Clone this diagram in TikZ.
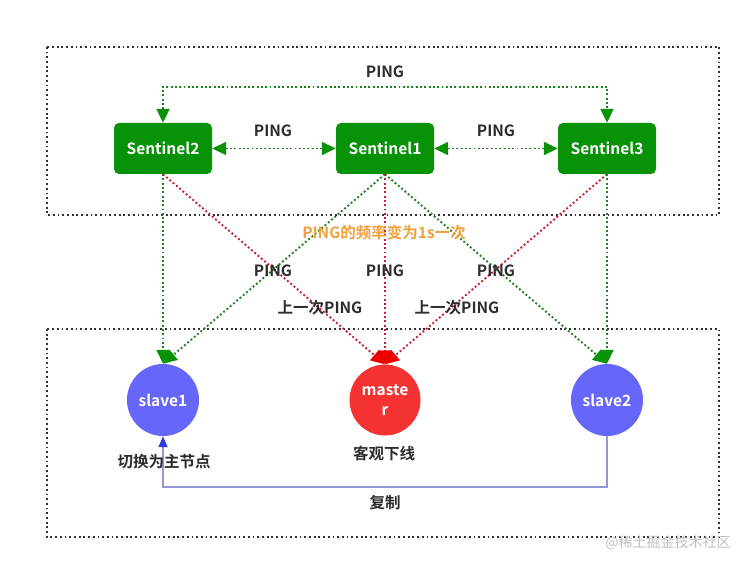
\documentclass[tikz,border=0pt]{standalone}
\usepackage{fontspec}
\setmainfont{Noto Sans CJK SC}[BoldFont={Noto Sans CJK SC Bold}]
\usetikzlibrary{arrows.meta}
\definecolor{boxgreen}{RGB}{8,146,8}
\definecolor{linegreen}{RGB}{30,130,30}
\definecolor{linered}{RGB}{200,30,50}
\definecolor{slaveblue}{RGB}{102,102,250}
\definecolor{masterred}{RGB}{245,50,50}
\definecolor{txt}{RGB}{45,45,45}
\definecolor{orangetxt}{RGB}{240,160,60}
\definecolor{framegray}{RGB}{50,50,50}
\definecolor{replline}{RGB}{150,150,215}
\definecolor{replhead}{RGB}{50,60,220}
\tikzset{
  frame/.style={draw=framegray,line width=1.8pt,dash pattern=on 1.8pt off 2.9pt},
  sentbox/.style={rectangle,rounded corners=5pt,fill=boxgreen,minimum width=98pt,minimum height=51pt,text=white,font=\fontsize{15.5pt}{18pt}\selectfont\bfseries},
  slavenode/.style={circle,fill=slaveblue,minimum size=72pt,inner sep=0pt,text=white,font=\fontsize{15.5pt}{18pt}\selectfont\bfseries},
  masternode/.style={circle,fill=masterred,minimum size=71pt,inner sep=0pt,text=white,align=center,font=\fontsize{15.5pt}{20pt}\selectfont\bfseries},
  lbl/.style={text=txt,font=\fontsize{15.5pt}{18pt}\selectfont\bfseries,inner sep=0pt},
  gdot/.style={draw=linegreen,line width=1.9pt,dash pattern=on 1.9pt off 2.4pt},
  rdot/.style={draw=linered,line width=1.9pt,dash pattern=on 1.9pt off 2.4pt},
  gtip/.style={-{Triangle[length=14pt,width=13pt,color=boxgreen,fill=boxgreen]}},
  gtips/.style={{Triangle[length=14pt,width=13pt,color=boxgreen,fill=boxgreen]}-{Triangle[length=14pt,width=13pt,color=boxgreen,fill=boxgreen]}},
  rtip/.style={-{Triangle[length=14pt,width=13pt,color=red!90!black,fill=red]}},
}
\begin{document}
\begin{tikzpicture}[x=1pt,y=-1pt]
\useasboundingbox[fill=white] (0,0) rectangle (752,569);
% frames
\draw[frame] (47,47) rectangle (719,215);
\draw[frame] (47,329) rectangle (719,537);
% nodes
\node[sentbox] (s2) at (163,148.5) {Sentinel2};
\node[sentbox] (s1) at (385,148.5) {Sentinel1};
\node[sentbox] (s3) at (607,148.5) {Sentinel3};
\node[slavenode] (sl1) at (163,400) {slave1};
\node[masternode] (m) at (385,400) {maste\\r};
\node[slavenode] (sl2) at (607,400) {slave2};
% sentinel pings
\draw[gdot,gtips] (s2.east) -- (s1.west);
\draw[gdot,gtips] (s1.east) -- (s3.west);
\draw[gdot,gtips] (s2.north) -- ++(0,-36) -| (s3.north);
% to servers
\draw[gdot,gtip] (s2.south) -- (sl1.north);
\draw[rdot,rtip] (s2.south) -- (m.north);
\draw[gdot,gtip] (s1.south) -- (sl1.north);
\draw[rdot,rtip] (s1.south) -- (m.north);
\draw[gdot,gtip] (s1.south) -- (sl2.north);
\draw[rdot,rtip] (s3.south) -- (m.north);
\draw[gdot,gtip] (s3.south) -- (sl2.north);
% replication
\draw[draw=replline,line width=1.5pt,-{Triangle[length=11pt,width=9pt,color=replhead,fill=replhead]}] (sl2.south) -- ++(0,51) -| (sl1.south);
% labels
\node[lbl] (l1) at (385,72) {PING};
\node[lbl] (l2) at (273,131) {PING};
\node[lbl] (l3) at (496,131) {PING};
\node[lbl,text=orangetxt] (l4) at (384,233) {PING的频率变为1s一次};
\node[lbl] (l5) at (273,271) {PING};
\node[lbl] (l6) at (385,271) {PING};
\node[lbl] (l7) at (496,271) {PING};
\node[lbl] (l8) at (320,308) {上一次PING};
\node[lbl] (l9) at (457,308) {上一次PING};
\node[lbl] (l10) at (164,462) {切换为主节点};
\node[lbl] (l11) at (384,454) {客观下线};
\node[lbl] (l12) at (385,503) {复制};
\node[lbl,text=black!25,font=\fontsize{14pt}{16pt}\selectfont] (wm) at (668,543) {@稀土掘金技术社区};
\end{tikzpicture}
\end{document}
